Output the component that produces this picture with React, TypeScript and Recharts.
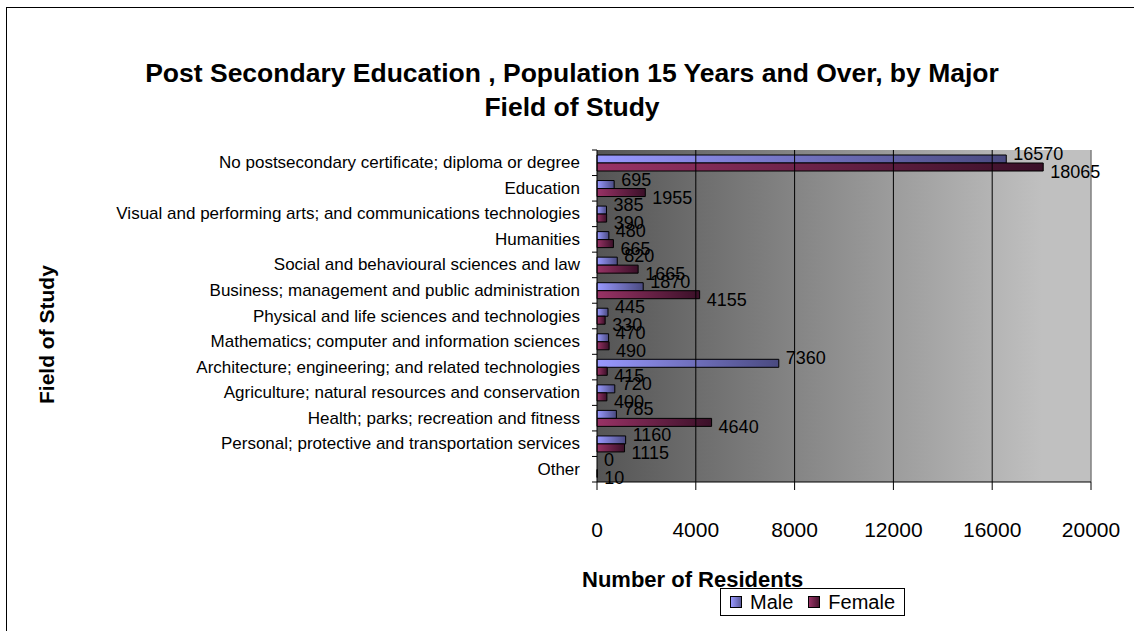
import React from 'react';
import { BarChart, Bar, XAxis, YAxis, CartesianGrid, Legend, LabelList, ReferenceLine } from 'recharts';

const fields = [
  'No postsecondary certificate; diploma or degree',
  'Education',
  'Visual and performing arts; and communications technologies',
  'Humanities',
  'Social and behavioural sciences and law',
  'Business; management and public administration',
  'Physical and life sciences and technologies',
  'Mathematics; computer and information sciences',
  'Architecture; engineering; and related technologies',
  'Agriculture; natural resources and conservation',
  'Health; parks; recreation and fitness',
  'Personal; protective and transportation services',
  'Other',
];
const maleCounts = [16570, 695, 385, 480, 820, 1870, 445, 470, 7360, 720, 785, 1160, 0];
const femaleCounts = [18065, 1955, 390, 665, 1665, 4155, 330, 490, 415, 400, 4640, 1115, 10];
const xTicks = [0, 4000, 8000, 12000, 16000, 20000];

const data = fields.map((name, i) => ({ name, male: maleCounts[i], female: femaleCounts[i] }));

const FONT = "'Liberation Sans', Arial, sans-serif";
const W = 1134;
const H = 631;
const PLOT_TOP = 150;
const PLOT_BOTTOM = 482;
const Y_AXIS_W = 597;
const band = (PLOT_BOTTOM - PLOT_TOP) / fields.length;
const MALE_DY = -5;
const FEMALE_DY = 5;

// category label plus the little tick mark on the boundary above it
const CategoryTick = (props: any) => {
  const { x, y, payload, index } = props;
  return (
    <g>
      <line x1={Y_AXIS_W - 5} x2={Y_AXIS_W} y1={y - band / 2} y2={y - band / 2} stroke="#000" />
      {index === fields.length - 1 && (
        <line x1={Y_AXIS_W - 5} x2={Y_AXIS_W} y1={y + band / 2} y2={y + band / 2} stroke="#000" />
      )}
      <text x={x - 9} y={y} textAnchor="end" dominantBaseline="central" fontSize={17} fill="#000" fontFamily={FONT}>
        {payload.value}
      </text>
    </g>
  );
};

const labelText = (x: number, y: number, value: any) => (
  <text x={x} y={y} dominantBaseline="central" fontSize={18} fill="#000" fontFamily={FONT}>
    {value}
  </text>
);

const maleLabel = (props: any) => {
  const { x, y, width, height, value } = props;
  return labelText(x + width + 7, y + height / 2 + MALE_DY, value);
};

// zero-width male bars get no label from recharts, so the female label draws it
const femaleLabel = (props: any) => {
  const { x, y, width, height, value, index } = props;
  return (
    <g>
      {labelText(x + width + 7, y + height / 2 + FEMALE_DY, value)}
      {maleCounts[index] === 0 && labelText(x + 7, y - height / 2 + MALE_DY, maleCounts[index])}
    </g>
  );
};

const LegendBox = () => (
  <div style={{ border: '1px solid #000', background: '#fff', width: 185, height: 28, display: 'flex', alignItems: 'center', fontFamily: FONT, fontSize: 20, color: '#000', boxSizing: 'border-box' }}>
    <span style={{ display: 'inline-block', width: 10, height: 10, border: '1px solid #000', background: 'linear-gradient(90deg,#9999ff,#5a5a99)', marginLeft: 9, marginRight: 8 }} />
    <span>Male</span>
    <span style={{ display: 'inline-block', width: 10, height: 10, border: '1px solid #000', background: 'linear-gradient(90deg,#993366,#4a1530)', marginLeft: 15, marginRight: 8 }} />
    <span>Female</span>
  </div>
);

export default function App() {
  return (
    <div style={{ position: 'absolute', left: 0, top: 0, width: W, height: H, overflow: 'hidden', background: '#fff' }}>
      <div style={{ position: 'absolute', left: 6, top: 7, width: 1200, height: 700, border: '1.5px solid #000' }} />
      <div style={{ position: 'absolute', left: 0, top: 56, width: 1144, textAlign: 'center', fontFamily: FONT, fontWeight: 'bold', fontSize: 26.5, lineHeight: '34px', color: '#000' }}>
        Post Secondary Education , Population 15 Years and Over, by Major
        <br />
        Field of Study
      </div>
      <div style={{ position: 'absolute', left: 0, top: 0 }}>
        <BarChart
          width={W}
          height={H}
          data={data}
          layout="vertical"
          margin={{ top: PLOT_TOP, right: W - 1091, bottom: 0, left: 0 }}
          barSize={8}
          barGap={0}
        >
          <defs>
            <linearGradient id="plotBg" x1="0" y1="0" x2="1" y2="0">
              <stop offset="0%" stopColor="#555555" />
              <stop offset="90%" stopColor="#c0c0c0" />
              <stop offset="100%" stopColor="#c0c0c0" />
            </linearGradient>
            <linearGradient id="maleFill" x1="0" y1="0" x2="1" y2="0">
              <stop offset="0%" stopColor="#9999ff" />
              <stop offset="100%" stopColor="#4a4a80" />
            </linearGradient>
            <linearGradient id="femaleFill" x1="0" y1="0" x2="1" y2="0">
              <stop offset="0%" stopColor="#993366" />
              <stop offset="100%" stopColor="#3a1028" />
            </linearGradient>
          </defs>
          <CartesianGrid horizontal={false} vertical={false} fill="url(#plotBg)" />
          {xTicks.slice(1, -1).map((t) => (
            <ReferenceLine key={t} x={t} stroke="#000" />
          ))}
          <ReferenceLine x={20000} stroke="#808080" strokeWidth={1.5} />
          <XAxis
            type="number"
            domain={[0, 20000]}
            ticks={xTicks}
            height={H - PLOT_BOTTOM}
            tickSize={8}
            tickMargin={32}
            stroke="#000"
            tick={{ fill: '#000', fontSize: 21, fontFamily: FONT }}
            label={{ value: 'Number of Residents', position: 'insideTopLeft', dx: -20, dy: 84, fill: '#000', fontSize: 22, fontWeight: 'bold', fontFamily: FONT }}
          />
          <YAxis
            type="category"
            dataKey="name"
            width={Y_AXIS_W}
            stroke="#000"
            tickLine={false}
            interval={0}
            tick={<CategoryTick />}
            label={{ value: 'Field of Study', angle: -90, position: 'insideLeft', dx: 42, dy: 88, fill: '#000', fontSize: 21, fontWeight: 'bold', fontFamily: FONT }}
          />
          <Legend
            layout="horizontal"
            verticalAlign="middle"
            align="center"
            content={<LegendBox />}
            wrapperStyle={{ position: 'absolute', left: 720, top: 588, width: 185 }}
          />
          <Bar dataKey="male" name="Male" fill="url(#maleFill)" stroke="#000" strokeWidth={1} isAnimationActive={false}>
            <LabelList dataKey="male" content={maleLabel} />
          </Bar>
          <Bar dataKey="female" name="Female" fill="url(#femaleFill)" stroke="#000" strokeWidth={1} isAnimationActive={false}>
            <LabelList dataKey="female" content={femaleLabel} />
          </Bar>
        </BarChart>
      </div>
    </div>
  );
}
